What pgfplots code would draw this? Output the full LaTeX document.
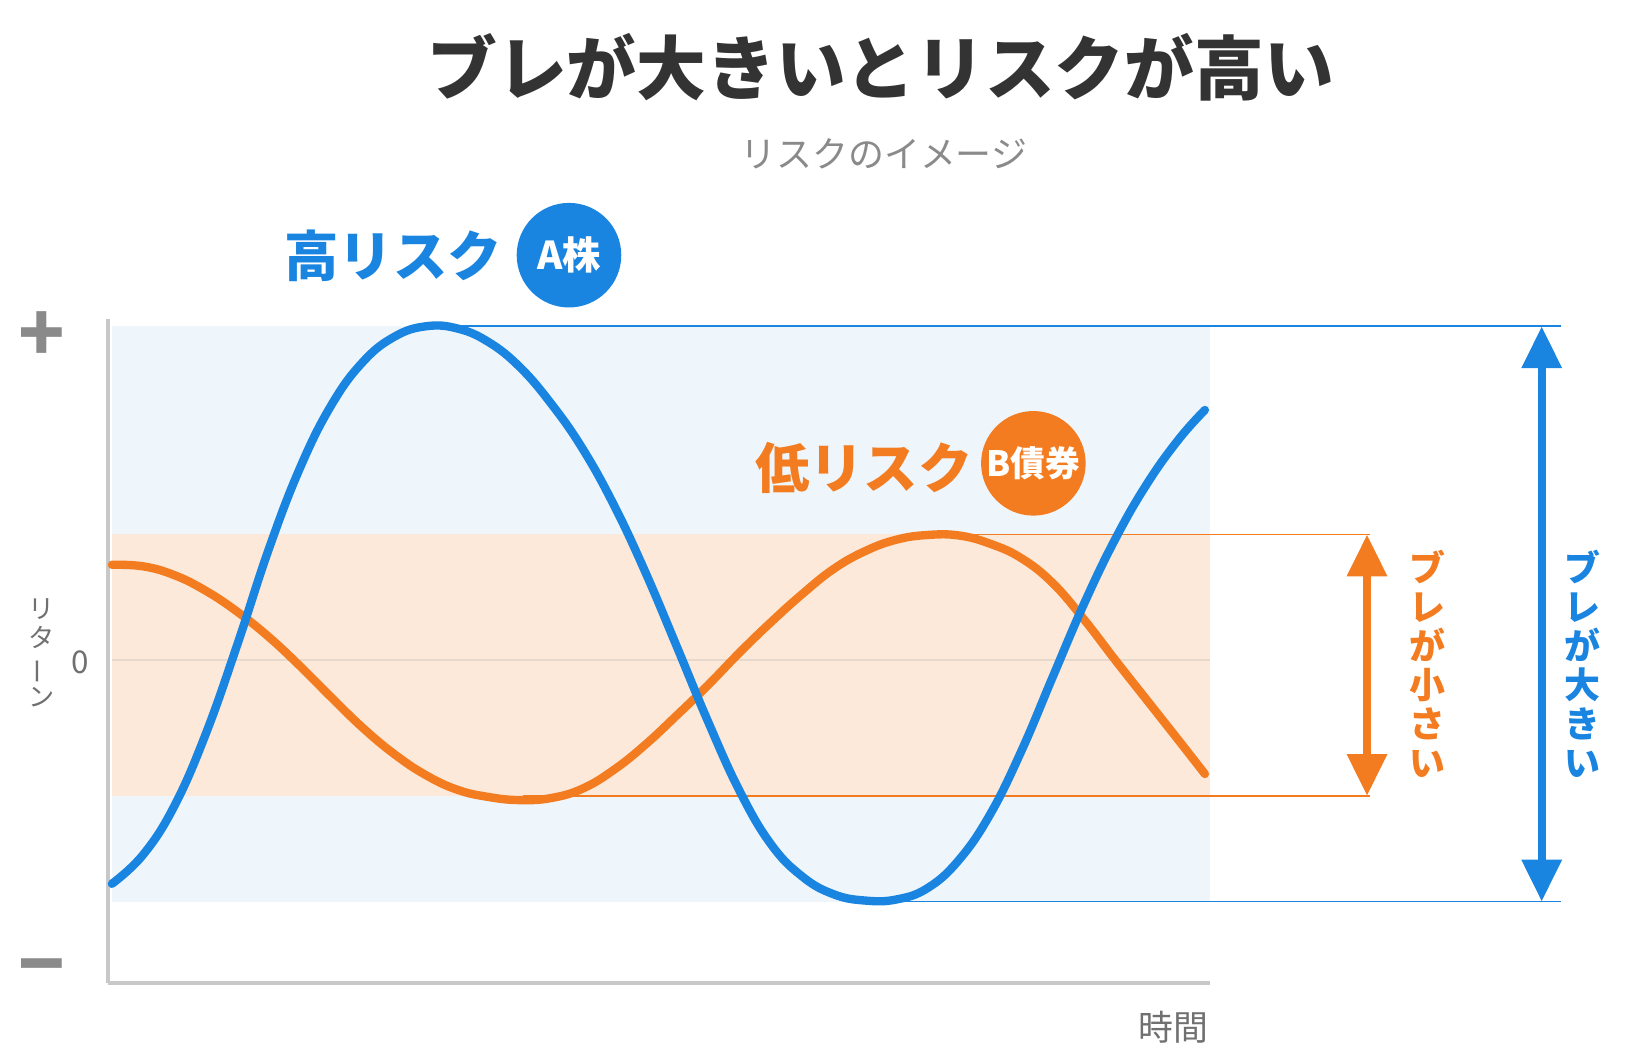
\documentclass[border=0pt]{standalone}
\usepackage{pgfplots}
\pgfplotsset{compat=1.18}
\usepackage{fontspec}
\usepackage{graphicx}
\setmainfont{Noto Sans CJK JP}
\usetikzlibrary{arrows.meta}
\definecolor{cblue}{HTML}{1985E1}
\definecolor{corange}{HTML}{F47C20}
\definecolor{bandblue}{HTML}{EEF6FC}
\definecolor{bandorange}{HTML}{FCE9DA}
\definecolor{axgray}{HTML}{C8C8C8}
\definecolor{titlegray}{HTML}{333333}
\definecolor{subgray}{HTML}{8A8A8A}
\definecolor{labgray}{HTML}{707070}
\definecolor{zerol}{HTML}{E6D8CB}

\pgfplotstableread{
x y
0 -214
30 -186
60 -139
90 -70
120 15
150 106
180 184
210 244
240 285
270 309
300 319
330 317
360 304
390 280
420 245
450 202
480 148
510 84
540 13
570 -59
600 -125
630 -176
660 -207
690 -224
720 -230
750 -229
780 -218
810 -191
840 -147
870 -86
900 -15
930 55
960 117
990 169
1020 211
1045 239
}\bluedata

\pgfplotstableread{
x y
0 91
30 89.5
60 81
90 66
120 46
150 22
180 -6
210 -36
240 -65
270 -90
300 -110
330 -124
360 -131
390 -134
420 -132
450 -123
480 -105
510 -81
540 -53
570 -24
600 7
630 36
660 63
690 87
720 104
750 115
780 119.5
810 119
840 111
870 97
900 73
930 38
960 -1
990 -39
1020 -77
1045 -109
}\orangedata

\begin{document}
\begin{tikzpicture}
\begin{axis}[
  scale only axis, width=316.2pt, height=190.5pt,
  xmin=-4, xmax=1050, ymin=-309, ymax=326,
  axis x line=bottom, axis y line=left,
  axis line style={-, draw=axgray, line width=1.2pt},
  xtick=\empty, ytick=\empty,
  clip=false,
]
% invisible bounding path
\path (axis cs:-107,-386) rectangle (axis cs:1461,631);
% bands
\addplot[fill=bandblue, draw=none] coordinates {(0,-231) (1050,-231) (1050,319) (0,319)} -- cycle;
\addplot[fill=bandorange, draw=none] coordinates {(0,-130) (1050,-130) (1050,120) (0,120)} -- cycle;
\addplot[zerol, line width=0.5pt] coordinates {(0,0) (1050,0)};
% reference lines
\addplot[cblue, line width=0.5pt] coordinates {(310,319) (1385,319)};
\addplot[cblue, line width=0.5pt] coordinates {(728,-231) (1385,-231)};
\addplot[corange, line width=0.5pt] coordinates {(783,120) (1203,120)};
\addplot[corange, line width=0.5pt] coordinates {(393,-130) (1203,-130)};
% curves
\addplot[corange, line width=2.4pt, line cap=round, smooth, tension=0.7] table[x=x,y=y] {\orangedata};
\addplot[cblue, line width=2.4pt, line cap=round, smooth, tension=0.7] table[x=x,y=y] {\bluedata};
% arrows
\addplot[corange, line width=2.4pt, {Triangle[width=11pt,length=12pt]}-{Triangle[width=11pt,length=12pt]}] coordinates {(1200,-130) (1200,120)};
\addplot[cblue, line width=2.4pt, {Triangle[width=11pt,length=12pt]}-{Triangle[width=11pt,length=12pt]}] coordinates {(1367,-231) (1367,319)};
% texts
\node[font=\fontsize{20}{24}\selectfont\bfseries, text=titlegray] at (axis cs:735,567) {ブレが大きいとリスクが高い};
\node[font=\fontsize{10.3}{12}\selectfont, text=subgray] at (axis cs:738,484) {リスクのイメージ};
\node[font=\fontsize{15.6}{18}\selectfont\bfseries, text=cblue] at (axis cs:269,386) {高リスク};
\node[circle, fill=cblue, minimum size=30pt, inner sep=0pt, text=white, font=\fontsize{11}{13}\selectfont\bfseries] at (axis cs:437,387) {A株};
\node[font=\fontsize{15.6}{18}\selectfont\bfseries, text=corange] at (axis cs:719,184) {低リスク};
\node[circle, fill=corange, minimum size=30pt, inner sep=0pt, text=white, font=\fontsize{10}{12}\selectfont\bfseries] at (axis cs:881,188) {B債券};
\node[align=center, text=corange, font=\fontsize{10.3}{11.2}\selectfont\bfseries] at (axis cs:1258,-4) {ブ\\レ\\が\\小\\さ\\い};
\node[align=center, text=cblue, font=\fontsize{10.3}{11.2}\selectfont\bfseries] at (axis cs:1406,-4) {ブ\\レ\\が\\大\\き\\い};
\node[align=center, text=labgray, font=\fontsize{7.5}{8.4}\selectfont] at (axis cs:-67,7) {リ\\タ\\\rotatebox[origin=c]{90}{ー}\\ン};
\node[text=labgray, font=\fontsize{9}{11}\selectfont] at (axis cs:-30,-2) {0};
\node[text=subgray, font=\fontsize{22}{24}\selectfont\bfseries] at (axis cs:-67,309) {+};
\node[text=subgray, font=\fontsize{22}{24}\selectfont\bfseries] at (axis cs:-67,-302) {−};
\node[text=labgray, font=\fontsize{10}{12}\selectfont] at (axis cs:1015,-351) {時間};
\end{axis}
\end{tikzpicture}
\end{document}
